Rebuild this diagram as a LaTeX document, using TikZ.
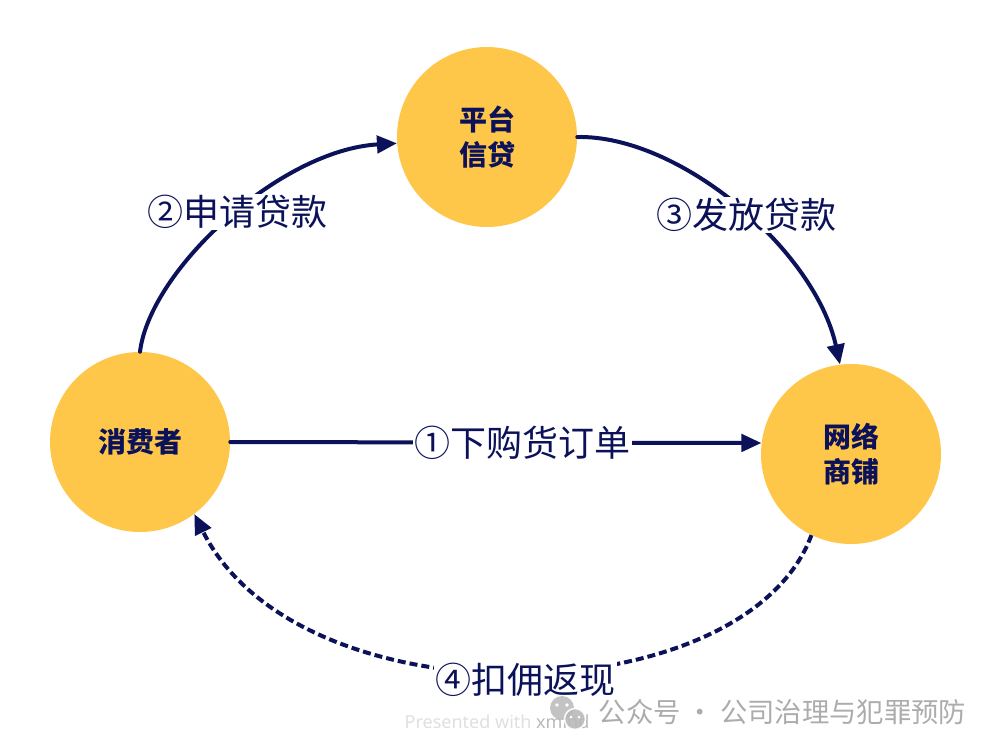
\documentclass[tikz,border=0pt]{standalone}
\usepackage{fontspec}
\setmainfont{Noto Sans CJK SC}
\newfontfamily\latinsans{Noto Sans}
\usetikzlibrary{arrows.meta}
\definecolor{navy}{HTML}{0C1259}
\definecolor{gold}{HTML}{FFC74A}

\begin{document}
\begin{tikzpicture}[x=0.75pt,y=-0.75pt,>={Triangle[length=15pt,width=13pt]}, line join=round, line cap=round,
	bubble/.style={circle, fill=gold, minimum size=135pt, inner sep=0pt, align=center, text=navy, font=\bfseries\fontsize{21}{26}\selectfont},
	flow/.style={->, draw=navy, line width=3pt},
	tag/.style={fill=white, inner sep=1pt, text=navy, font=\fontsize{27}{32}\selectfont}]
	\useasboundingbox (0,0) rectangle (992,754);
	% the three parties
	\node[bubble] (plat) at (487,137) {平台\\信贷};
	\node[bubble] (cons) at (140,442) {消费者};
	\node[bubble] (shop) at (851,454) {网络\\商铺};
	% money and goods
	\draw[flow] (cons.east) -- node[tag, pos=0.55] {①下购货订单} (shop.173);
	\draw[flow] (cons.90) .. controls (150,270) and (280,150) .. node[tag, pos=0.53] {②申请贷款} (plat.184);
	\draw[flow] (plat.east) .. controls (680,135) and (815,250) .. node[tag, pos=0.53] {③发放贷款} (shop.97);
	\draw[flow, dash pattern=on 6pt off 3pt, line cap=butt] (shop.244) .. controls (745,715) and (300,726) .. node[tag, pos=0.49, yshift=-6pt] {④扣佣返现} (cons.307);
	% watermark
	\node[anchor=west, text=gray!25, font=\latinsans\fontsize{13.5}{16}\selectfont] (credit) at (400,722) {Presented with \textbf{\color{gray!55}xmind}};
	\node[anchor=west, text=gray!65, font=\fontsize{20.5}{24}\selectfont] (mark) at (594,712) {公众号 · 公司治理与犯罪预防};
	\fill[gray!55, opacity=0.85] (562,708) circle (12);
	\fill[white] (557,705) circle (1.8) (567,705) circle (1.8);
	\fill[gray!55, draw=white, line width=1.2pt, opacity=0.9] (575,719) circle (10.5);
	\fill[white] (571,717) circle (1.5) (579,717) circle (1.5);
\end{tikzpicture}
\end{document}
